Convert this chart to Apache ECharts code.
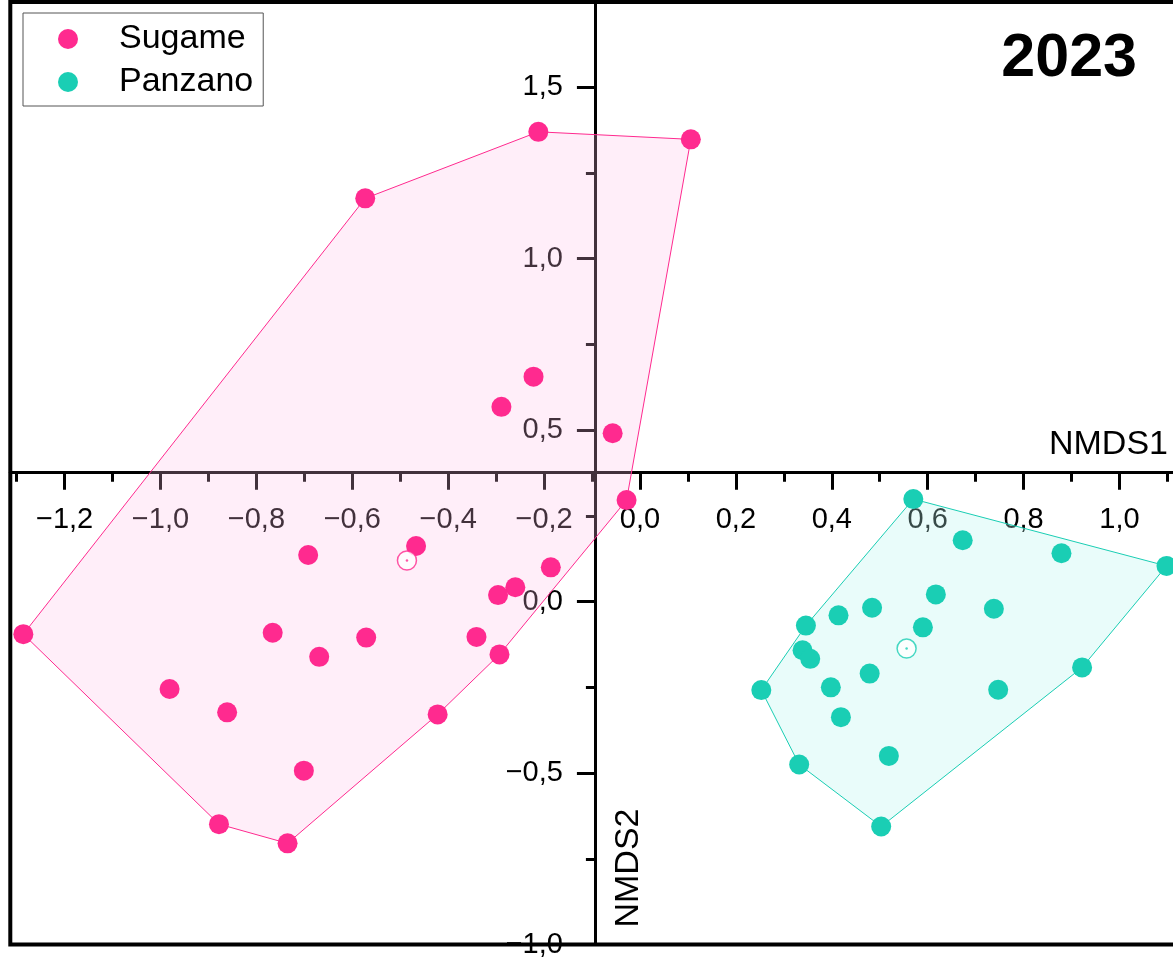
<!DOCTYPE html>
<html>
<head>
<meta charset="utf-8">
<script src="https://cdn.jsdelivr.net/npm/echarts@6/dist/echarts.min.js"></script>
<style>
html,body{margin:0;padding:0;background:#fff;}
#chart{width:1173px;height:959px;}
</style>
</head>
<body>
<div id="chart"></div>
<script>
// ---------------- data ----------------
const seriesNames = ['Sugame', 'Panzano'];
const chartTitle = '2023';
const xAxisName = 'NMDS1';
const yAxisName = 'NMDS2';

const sugameX = [-0.212, 0.106, -0.573, -0.222, -0.289, -0.057, -0.028, -0.467, -0.692, -0.186, -0.260, -0.296,
                 -1.286, -0.766, -0.571, -0.341, -0.669, -0.293, -0.981, -0.861, -0.422, -0.701, -0.878, -0.735];
const sugameY = [1.370, 1.348, 1.176, 0.656, 0.568, 0.491, 0.296, 0.162, 0.136, 0.100, 0.042, 0.019,
                 -0.095, -0.091, -0.105, -0.103, -0.161, -0.154, -0.255, -0.323, -0.329, -0.493, -0.649, -0.705];

const panzanoX = [0.570, 0.673, 0.879, 1.098, 0.617, 0.484, 0.738, 0.414, 0.346, 0.590, 0.339,
                  0.355, 0.922, 0.479, 0.253, 0.398, 0.747, 0.419, 0.519, 0.332, 0.503];
const panzanoY = [0.299, 0.179, 0.141, 0.104, 0.021, -0.018, -0.021, -0.040, -0.070, -0.075, -0.142,
                  -0.167, -0.192, -0.210, -0.258, -0.250, -0.257, -0.337, -0.450, -0.475, -0.656];

const sugameCentroid = [-0.486, 0.120];
const panzanoCentroid = [0.556, -0.137];

const xMajorTicks = [-1.2, -1.0, -0.8, -0.6, -0.4, -0.2, 0.0, 0.2, 0.4, 0.6, 0.8, 1.0];
const xMinorTicks = [-1.3, -1.1, -0.9, -0.7, -0.5, -0.3, -0.1, 0.1, 0.3, 0.5, 0.7, 0.9, 1.1];
const yMajorTicks = [-1.0, -0.5, 0.0, 0.5, 1.0, 1.5];
const yMinorTicks = [-0.75, -0.25, 0.25, 0.75, 1.25];

const X_MIN = -1.3132, X_MAX = 1.195;
const Y_MIN = -1.0, Y_MAX = 1.7486;
const AXIS_CROSS_X = -0.094;   // where the vertical axis sits
const AXIS_CROSS_Y = 0.376;    // where the horizontal axis sits

// ---------------- styling ----------------
const FONT = "'Liberation Sans', Arial, sans-serif";
const PINK = '#FF2A8F';
const TEAL = '#1ACEB4';
const PINK_FILL = 'rgba(255,190,230,0.26)';
const TEAL_FILL = 'rgba(182,245,238,0.30)';

function fmt(v) {
  const r = Math.round(v * 10) / 10;
  const s = Math.abs(r).toFixed(1).replace('.', ',');
  return (r < 0 ? '\u2212' : '') + s;
}

function convexHull(pts) {
  const p = pts.slice().sort((a, b) => a[0] - b[0] || a[1] - b[1]);
  const cross = (o, a, b) => (a[0] - o[0]) * (b[1] - o[1]) - (a[1] - o[1]) * (b[0] - o[0]);
  const lower = [];
  for (const q of p) {
    while (lower.length >= 2 && cross(lower[lower.length - 2], lower[lower.length - 1], q) <= 0) lower.pop();
    lower.push(q);
  }
  const upper = [];
  for (let i = p.length - 1; i >= 0; i--) {
    const q = p[i];
    while (upper.length >= 2 && cross(upper[upper.length - 2], upper[upper.length - 1], q) <= 0) upper.pop();
    upper.push(q);
  }
  upper.pop(); lower.pop();
  return lower.concat(upper);
}

function zip(xs, ys) { return xs.map((x, i) => [x, ys[i]]); }

function hullSeries(xs, ys, stroke, fill) {
  const h = convexHull(zip(xs, ys));
  return {
    type: 'custom',
    coordinateSystem: 'cartesian2d',
    xAxisIndex: 0, yAxisIndex: 0,
    silent: true,
    z: 2,
    data: h,
    renderItem: function (params, api) {
      if (params.dataIndex !== 0) return { type: 'group', children: [] };
      const poly = h.map(pt => api.coord(pt));
      return { type: 'polygon', shape: { points: poly }, style: { fill: fill, stroke: stroke, lineWidth: 1 } };
    }
  };
}

function scatterSeries(name, xs, ys, color) {
  return {
    name: name, type: 'scatter', xAxisIndex: 0, yAxisIndex: 0, z: 3,
    symbol: 'circle', symbolSize: 20,
    itemStyle: { color: color, opacity: 1 },
    data: zip(xs, ys)
  };
}

function centroidSeries(pt, color) {
  return [{
    type: 'scatter', xAxisIndex: 0, yAxisIndex: 0, z: 4, silent: true,
    symbol: 'circle', symbolSize: 19,
    itemStyle: { color: '#fff', borderColor: color, borderWidth: 1.5 },
    data: [pt]
  }, {
    type: 'scatter', xAxisIndex: 0, yAxisIndex: 0, z: 5, silent: true,
    symbol: 'circle', symbolSize: 2.5,
    itemStyle: { color: color },
    data: [pt]
  }];
}

const tickStyle = { color: '#000', width: 3 };
const labelStyle = { fontSize: 29, color: '#000', fontFamily: FONT };

const option = {
  animation: false,
  backgroundColor: '#fff',
  title: {
    text: chartTitle, right: 36, top: 29, padding: 0,
    textStyle: { fontSize: 61, fontWeight: 'bold', color: '#000', fontFamily: FONT }
  },
  legend: {
    data: seriesNames,
    orient: 'vertical',
    left: 23, top: 13,
    padding: [6, 10, 4, 35],
    itemGap: 3,
    itemWidth: 20, itemHeight: 20,
    icon: 'circle',
    selectedMode: false,
    borderColor: '#555', borderWidth: 1,
    textStyle: { fontSize: 34, color: '#000', fontFamily: FONT, lineHeight: 40, padding: [0, 0, 0, 36] }
  },
  grid: {
    left: 10.3, right: -40, top: 2, bottom: 14.5,
    outerBoundsMode: 'none',
    containLabel: false,
    show: true, borderColor: '#000', borderWidth: 4, backgroundColor: 'transparent'
  },
  xAxis: [{
    type: 'value', position: 'bottom', min: X_MIN, max: X_MAX, offset: 0,
    axisLine: { show: true, onZero: false, lineStyle: { color: '#000', width: 3 } },
    axisTick: { show: true, customValues: xMajorTicks, length: 17, lineStyle: tickStyle },
    axisLabel: Object.assign({ show: true, customValues: xMajorTicks, formatter: fmt, margin: 33 }, labelStyle),
    splitLine: { show: false }
  }, {
    type: 'value', position: 'bottom', min: X_MIN, max: X_MAX, offset: 0,
    axisLine: { show: false, onZero: false },
    axisTick: { show: true, customValues: xMinorTicks, length: 9, lineStyle: tickStyle },
    axisLabel: { show: false },
    splitLine: { show: false }
  }],
  yAxis: [{
    type: 'value', position: 'left', min: Y_MIN, max: Y_MAX, offset: 0,
    axisLine: { show: true, onZero: false, lineStyle: { color: '#000', width: 3 } },
    axisTick: { show: true, customValues: yMajorTicks, length: 18, lineStyle: tickStyle },
    axisLabel: Object.assign({ show: true, customValues: yMajorTicks, formatter: fmt, margin: 32 }, labelStyle),
    splitLine: { show: false }
  }, {
    type: 'value', position: 'left', min: Y_MIN, max: Y_MAX, offset: 0,
    axisLine: { show: false, onZero: false },
    axisTick: { show: true, customValues: yMinorTicks, length: 9, lineStyle: tickStyle },
    axisLabel: { show: false },
    splitLine: { show: false }
  }],
  graphic: [{
    type: 'text', x: 1168, y: 445, z: 10,
    style: { text: xAxisName, align: 'right', verticalAlign: 'middle', fontSize: 34, fontFamily: FONT, fill: '#000' }
  }, {
    type: 'text', x: 629, y: 868, rotation: Math.PI / 2, z: 10,
    style: { text: yAxisName, align: 'center', verticalAlign: 'middle', fontSize: 34, fontFamily: FONT, fill: '#000' }
  }],
  series: [
    hullSeries(sugameX, sugameY, PINK, PINK_FILL),
    hullSeries(panzanoX, panzanoY, TEAL, TEAL_FILL),
    scatterSeries(seriesNames[0], sugameX, sugameY, PINK),
    scatterSeries(seriesNames[1], panzanoX, panzanoY, TEAL)
  ].concat(centroidSeries(sugameCentroid, PINK), centroidSeries(panzanoCentroid, TEAL))
};

const chart = echarts.init(document.getElementById('chart'), null, { renderer: 'canvas' });
chart.setOption(option);

// place the axes where they cross inside the frame
const yCrossPx = chart.convertToPixel({ yAxisIndex: 0 }, AXIS_CROSS_Y);
const gridBottomPx = chart.convertToPixel({ yAxisIndex: 0 }, Y_MIN);
const xCrossPx = chart.convertToPixel({ xAxisIndex: 0 }, AXIS_CROSS_X);
const gridLeftPx = chart.convertToPixel({ xAxisIndex: 0 }, X_MIN);
const xOff = yCrossPx - gridBottomPx;
const yOff = gridLeftPx - xCrossPx;
chart.setOption({
  xAxis: [{ offset: xOff }, { offset: xOff }],
  yAxis: [{ offset: yOff }, { offset: yOff }]
});
</script>
</body>
</html>
